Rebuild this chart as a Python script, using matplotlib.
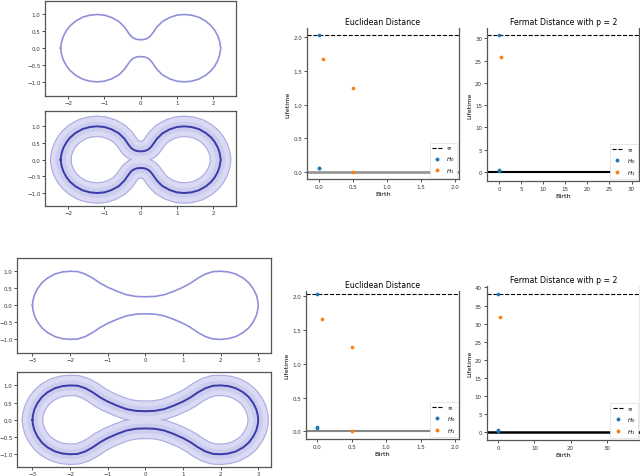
import numpy as np
import matplotlib
matplotlib.use("Agg")
import matplotlib.pyplot as plt
from matplotlib.lines import Line2D

# ---------------- data ----------------
# upper-right quadrant outline of the "peanut" shape (top row)
shapeA_x = [0.00, 0.06, 0.12, 0.18, 0.24, 0.30, 0.36, 0.45, 0.60, 0.80, 1.00,
            1.20, 1.40, 1.60, 1.80, 1.95, 2.05, 2.13, 2.18, 2.21]
shapeA_y = [0.25, 0.253, 0.265, 0.29, 0.33, 0.40, 0.49, 0.63, 0.79, 0.91, 0.98,
            1.00, 0.98, 0.92, 0.80, 0.66, 0.52, 0.36, 0.20, 0.00]
# upper-right quadrant outline of the elongated shape (bottom row)
shapeB_x = [0.00, 0.25, 0.50, 0.75, 1.00, 1.20, 1.40, 1.60, 1.80, 2.00, 2.20, 2.40,
            2.60, 2.75, 2.87, 2.95, 2.99, 3.00]
shapeB_y = [0.25, 0.26, 0.31, 0.41, 0.53, 0.65, 0.80, 0.92, 0.99, 1.00, 0.98, 0.92,
            0.80, 0.66, 0.48, 0.30, 0.12, 0.00]

# persistence diagrams: (birth, lifetime)
eucA_H0_birth = [0.0, 0.0, 0.0]
eucA_H0_life = [2.04, 0.06, 0.05]
eucA_H1_birth = [0.055, 0.50, 0.50]
eucA_H1_life = [1.68, 1.24, 0.00]
eucA_inf = 2.04

ferA_H0_birth = [0.0, 0.0, 0.0]
ferA_H0_life = [30.75, 0.5, 0.2]
ferA_H1_birth = [0.375]
ferA_H1_life = [25.7]
ferA_inf = 30.75

eucB_H0_birth = [0.0, 0.0, 0.0]
eucB_H0_life = [2.035, 0.07, 0.05]
eucB_H1_birth = [0.07, 0.50, 0.50]
eucB_H1_life = [1.67, 1.245, 0.00]
eucB_inf = 2.035

ferB_H0_birth = [0.0, 0.0, 0.0]
ferB_H0_life = [38.15, 0.55, 0.3]
ferB_H1_birth = [0.55]
ferB_H1_life = [31.9]
ferB_inf = 38.15

# ---------------- helpers ----------------
TICK = 4.0
LAB = 4.6
TIT = 5.6


def closed_loop(qx, qy):
    qx = np.asarray(qx); qy = np.asarray(qy)
    ux = np.concatenate([-qx[::-1], qx[1:]])
    uy = np.concatenate([qy[::-1], qy[1:]])
    lx = ux[::-1][1:]
    ly = -uy[::-1][1:]
    return np.concatenate([ux, lx]), np.concatenate([uy, ly])


def style_shape_ax(ax, xticks):
    ax.set_xticks(xticks)
    ax.set_yticks([-1.0, -0.5, 0.0, 0.5, 1.0])
    ax.tick_params(labelsize=TICK, length=2, width=0.6, pad=1.2, colors='#333333')
    for s in ax.spines.values():
        s.set_color('#555555')
        s.set_linewidth(0.9)


def draw_thin(ax, qx, qy):
    x, y = closed_loop(qx, qy)
    ax.plot(x, y, color='#8484d6', lw=1.2, alpha=0.9, solid_joinstyle='round')


def draw_thick(ax, qx, qy):
    x, y = closed_loop(qx, qy)
    ax.plot(x, y, color='#aaaae0', lw=15.5, solid_joinstyle='round', solid_capstyle='round')
    ax.plot(x, y, color='#dadaf4', lw=13.9, solid_joinstyle='round', solid_capstyle='round')
    ax.plot(x, y, color='#c4c4ea', lw=7, solid_joinstyle='round', alpha=0.6)
    ax.plot(x, y, color='#3a3aa8', lw=1.4, solid_joinstyle='round')


def draw_diagram(ax, h0b, h0l, h1b, h1l, inf, xlim, ylim, xticks, yticks, title, zero_color, zero_lw):
    ax.plot([xlim[0], xlim[1]], [0, 0], color=zero_color, lw=zero_lw, zorder=1)
    ax.plot([xlim[0], xlim[1]], [inf, inf], '--', color='black', lw=0.8, zorder=1)
    ax.scatter(h0b, h0l, s=7, color='#1f77b4', zorder=3, linewidths=0)
    ax.scatter(h1b, h1l, s=7, color='#ff7f0e', zorder=3, linewidths=0)
    ax.set_xlim(*xlim)
    ax.set_ylim(*ylim)
    ax.set_xticks(xticks)
    ax.set_yticks(yticks)
    ax.tick_params(labelsize=TICK, length=2, width=0.6, pad=1.5, colors='#333333')
    ax.set_xlabel('Birth', fontsize=LAB, labelpad=1.5)
    ax.set_ylabel('Lifetime', fontsize=LAB, labelpad=2)
    ax.set_title(title, fontsize=TIT, pad=3)
    for s in ax.spines.values():
        s.set_color('#555555')
        s.set_linewidth(0.9)
    ax.spines['top'].set_visible(False)
    handles = [Line2D([], [], ls='--', color='black', lw=0.8),
               Line2D([], [], ls='', marker='o', ms=1.8, color='#1f77b4'),
               Line2D([], [], ls='', marker='o', ms=1.8, color='#ff7f0e')]
    leg = ax.legend(handles, [r'$\infty$', r'$H_0$', r'$H_1$'], loc='lower right',
                    fontsize=4.0, handlelength=1.8, borderpad=0.45, labelspacing=0.55,
                    handletextpad=0.8, framealpha=1, edgecolor='#dddddd', borderaxespad=0.3)
    leg.get_frame().set_linewidth(0.5)


# ---------------- figure ----------------
fig = plt.figure(figsize=(6.4, 4.77), dpi=100)

ax1 = fig.add_axes([0.0703, 0.7966, 0.2984, 0.1992])
draw_thin(ax1, shapeA_x, shapeA_y)
ax1.set_xlim(-2.64, 2.63); ax1.set_ylim(-1.42, 1.40)
style_shape_ax(ax1, [-2, -1, 0, 1, 2])

ax2 = fig.add_axes([0.0703, 0.5660, 0.2984, 0.1992])
draw_thick(ax2, shapeA_x, shapeA_y)
ax2.set_xlim(-2.64, 2.63); ax2.set_ylim(-1.39, 1.46)
style_shape_ax(ax2, [-2, -1, 0, 1, 2])

ax5 = fig.add_axes([0.0266, 0.2579, 0.3969, 0.1992])
draw_thin(ax5, shapeB_x, shapeB_y)
ax5.set_xlim(-3.41, 3.34); ax5.set_ylim(-1.40, 1.39)
style_shape_ax(ax5, [-3, -2, -1, 0, 1, 2, 3])

ax6 = fig.add_axes([0.0266, 0.0189, 0.3969, 0.1992])
draw_thick(ax6, shapeB_x, shapeB_y)
ax6.set_xlim(-3.41, 3.34); ax6.set_ylim(-1.37, 1.39)
style_shape_ax(ax6, [-3, -2, -1, 0, 1, 2, 3])

ax3 = fig.add_axes([0.4797, 0.6216, 0.2375, 0.3176])
draw_diagram(ax3, eucA_H0_birth, eucA_H0_life, eucA_H1_birth, eucA_H1_life, eucA_inf,
             (-0.176, 2.06), (-0.116, 2.14), [0.0, 0.5, 1.0, 1.5, 2.0],
             [0.0, 0.5, 1.0, 1.5, 2.0], 'Euclidean Distance', '#999999', 2.0)

ax4 = fig.add_axes([0.7609, 0.6191, 0.2383, 0.3201])
draw_diagram(ax4, ferA_H0_birth, ferA_H0_life, ferA_H1_birth, ferA_H1_life, ferA_inf,
             (-2.7, 31.8), (-1.95, 32.3), [0, 5, 10, 15, 20, 25, 30],
             [0, 5, 10, 15, 20, 25, 30], 'Fermat Distance with p = 2', 'black', 1.5)

ax7 = fig.add_axes([0.4781, 0.0776, 0.2395, 0.3109])
draw_diagram(ax7, eucB_H0_birth, eucB_H0_life, eucB_H1_birth, eucB_H1_life, eucB_inf,
             (-0.165, 2.063), (-0.114, 2.084), [0.0, 0.5, 1.0, 1.5, 2.0],
             [0.0, 0.5, 1.0, 1.5, 2.0], 'Euclidean Distance', '#888888', 1.5)

ax8 = fig.add_axes([0.7604, 0.0761, 0.2395, 0.3229])
draw_diagram(ax8, ferB_H0_birth, ferB_H0_life, ferB_H1_birth, ferB_H1_life, ferB_inf,
             (-3.2, 39.2), (-2.2, 40.5), [0, 10, 20, 30],
             [0, 5, 10, 15, 20, 25, 30, 35, 40], 'Fermat Distance with p = 2', 'black', 1.8)

fig.savefig('out.png', dpi=100)
